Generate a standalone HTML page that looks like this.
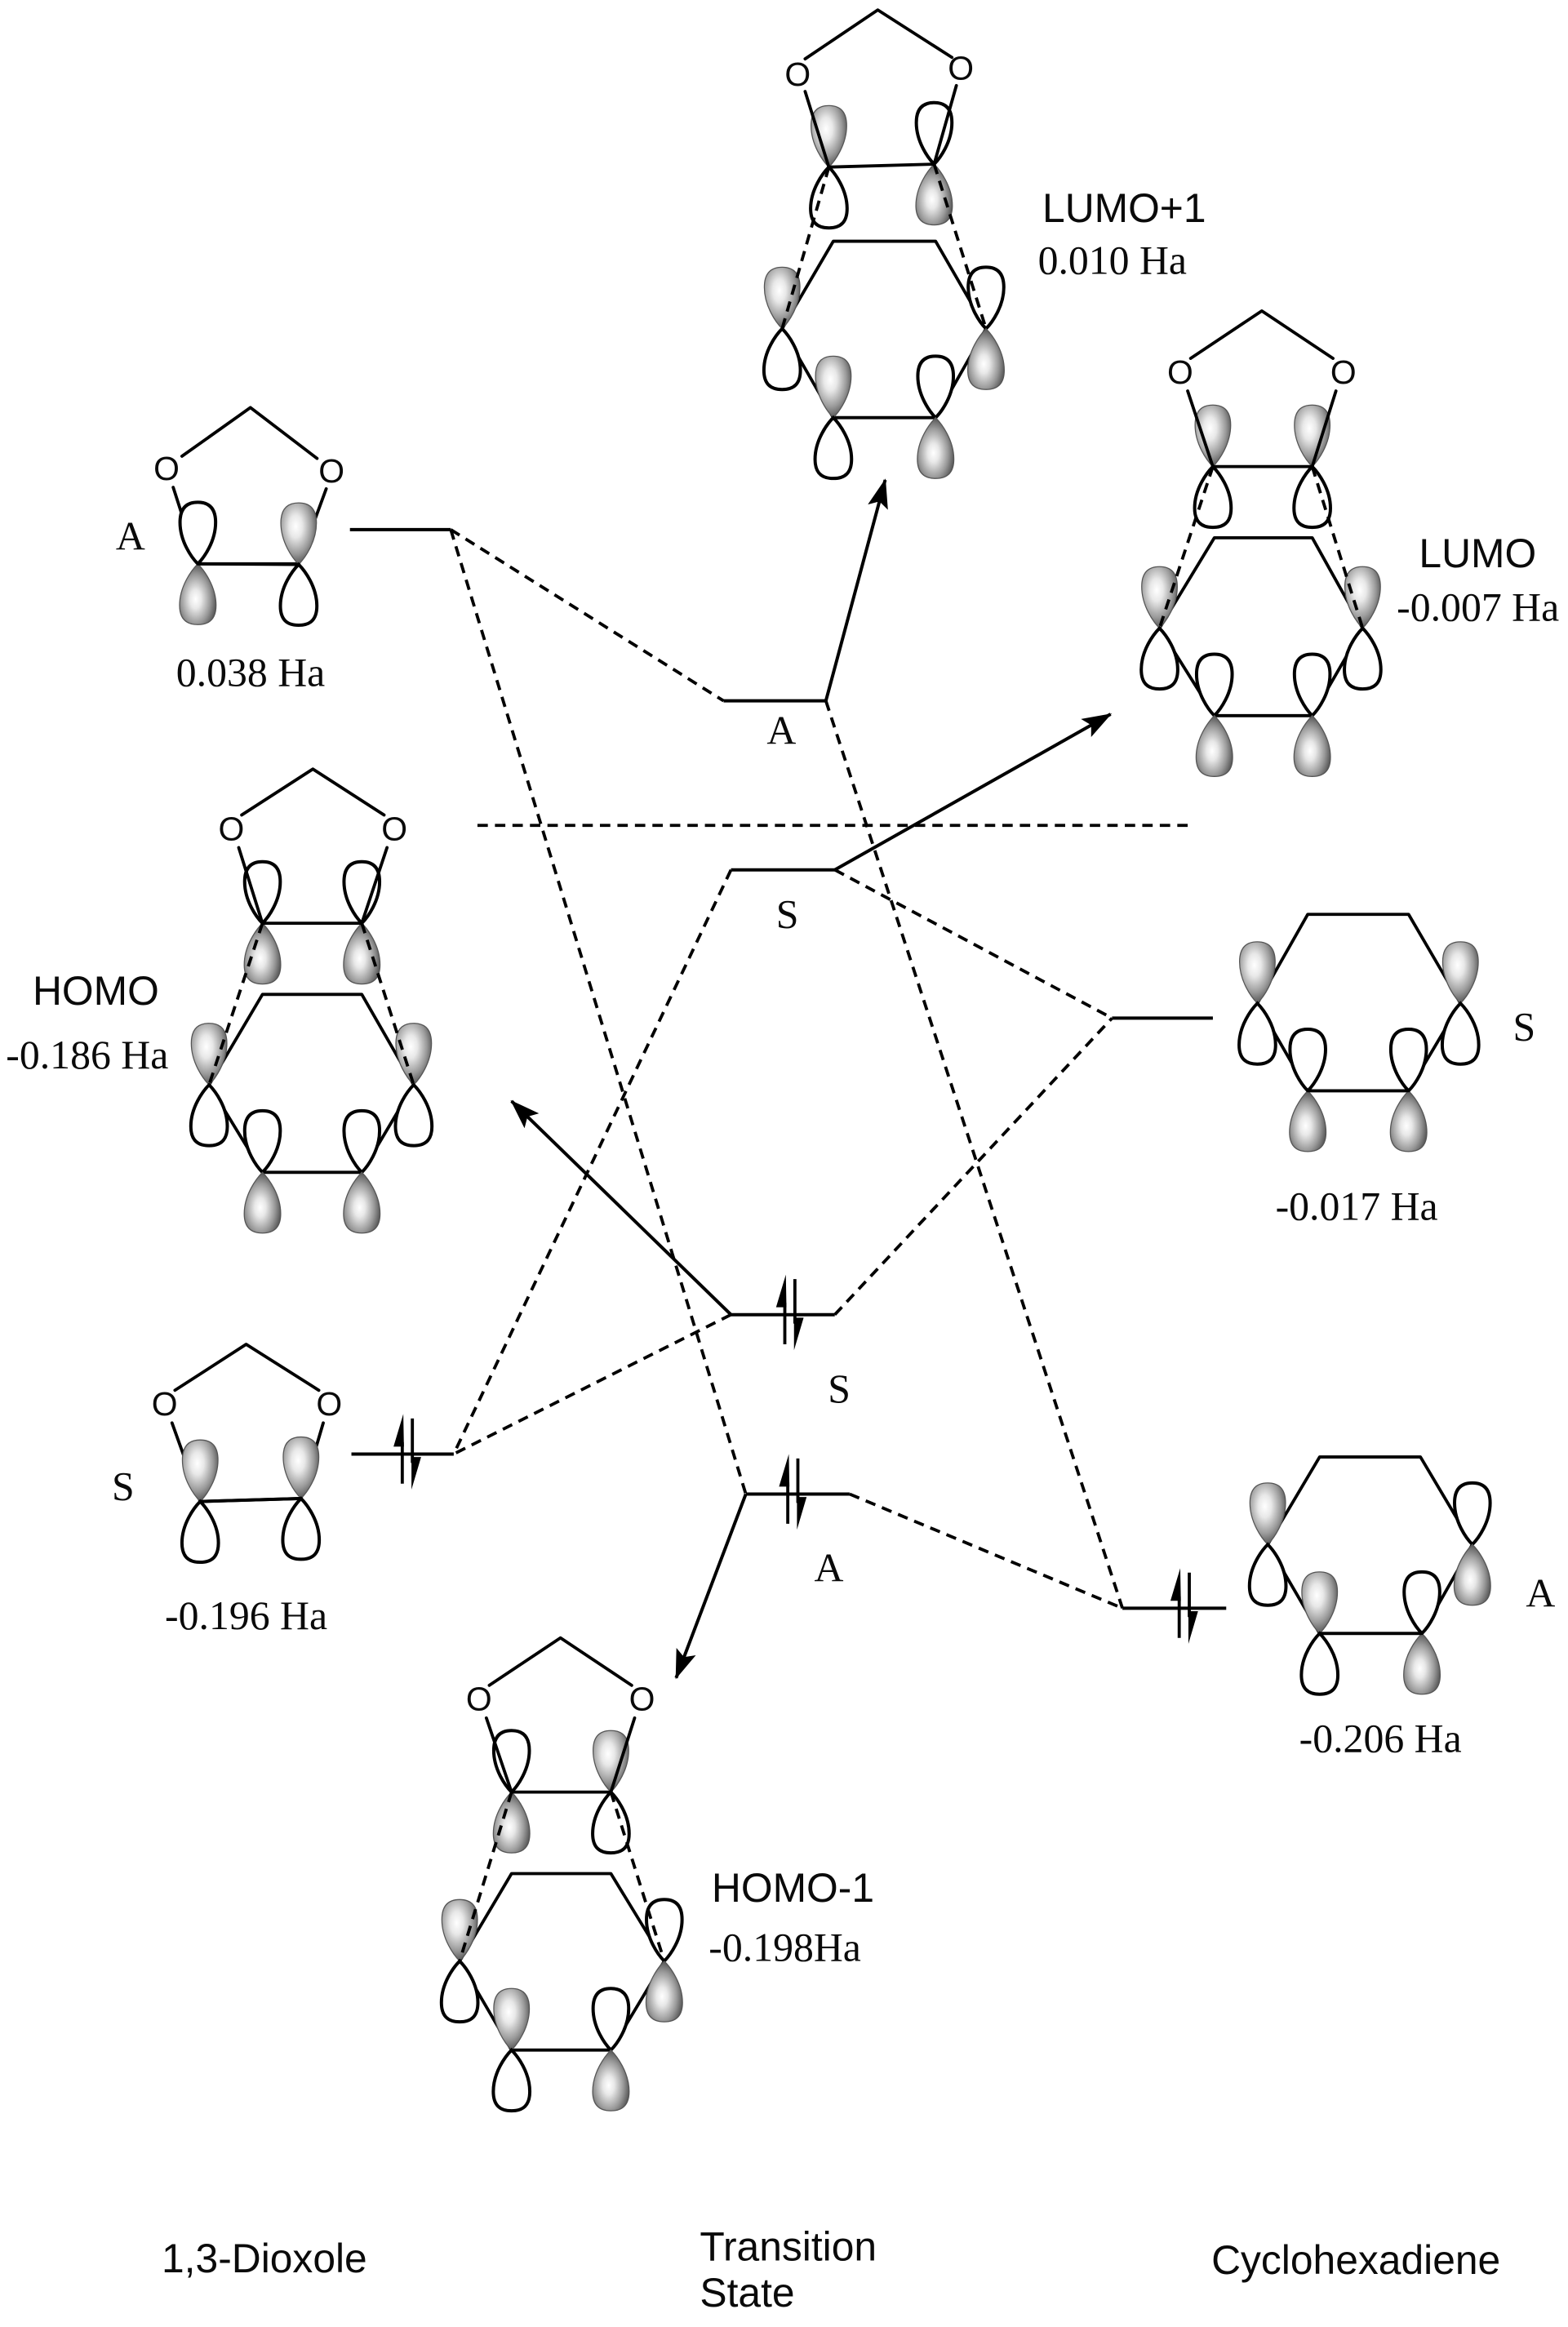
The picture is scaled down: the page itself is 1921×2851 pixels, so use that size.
<!DOCTYPE html>
<html><head><meta charset="utf-8"><style>
html,body{margin:0;padding:0;background:#fff}
svg{display:block}
.s{font-family:"Liberation Sans",sans-serif;font-size:27.4px;fill:#0a0a0a}
.t{font-family:"Liberation Serif",serif;font-size:27.4px;fill:#0a0a0a}
.o{font-family:"Liberation Sans",sans-serif;font-size:22.5px;fill:#0a0a0a;text-anchor:middle}
.m{text-anchor:middle}
.b{stroke:#000;stroke-width:2.1;fill:none;stroke-linecap:round;stroke-linejoin:round}
.d{stroke:#000;stroke-width:2.1;fill:none;stroke-dasharray:7 4.8}
.a{stroke:#000;stroke-width:2.2;fill:none}
.lv{stroke:#000;stroke-width:2.2;fill:none}
</style></head><body>
<svg xmlns="http://www.w3.org/2000/svg" width="1921" height="2851" viewBox="0 -0.7 1057.5 1569.5">
<defs>
<radialGradient id="gu" cx=".42" cy=".38" r=".66"><stop offset="0" stop-color="#fff"/><stop offset=".28" stop-color="#e8e8e8"/><stop offset=".68" stop-color="#999"/><stop offset="1" stop-color="#484848"/></radialGradient>
<radialGradient id="gd" cx=".44" cy=".58" r=".62"><stop offset="0" stop-color="#fff"/><stop offset=".25" stop-color="#e8e8e8"/><stop offset=".65" stop-color="#999"/><stop offset="1" stop-color="#454545"/></radialGradient>
<path id="up" d="M0,0C-4,-4 -12,-15 -12,-28C-12,-37 -8,-41.5 0,-41.5C8,-41.5 12,-37 12,-28C12,-15 4,-4 0,0Z"/>
<path id="dn" d="M0,0C4,4 12.3,15 12.3,28C12.3,37 8,41 0,41C-8,41 -12.3,37 -12.3,28C-12.3,15 -4,4 0,0Z"/>
<use id="uf" href="#up" fill="url(#gu)" stroke="#555" stroke-width=".7"/>
<use id="df" href="#dn" fill="url(#gd)" stroke="#555" stroke-width=".7"/>
<use id="uo" href="#up" fill="#fff" stroke="#000" stroke-width="2.2"/>
<use id="do" href="#dn" fill="#fff" stroke="#000" stroke-width="2.2"/>
<g id="spin">
<path d="M-3.7,-8V20M3.1,-24V6" stroke="#000" stroke-width="2.1" fill="none"/>
<path d="M-3,-27L-9.6,-5L-2.6,-5Z M2.5,24L9,2L2.5,2Z" fill="#000"/>
</g>
<marker id="ah" markerUnits="userSpaceOnUse" markerWidth="24" markerHeight="16" refX="19" refY="7" orient="auto"><path d="M0,0L20,7L0,14L4,7Z" fill="#000"/></marker>
</defs>

<!-- dashed correlations -->
<path class="d" d="M304,356.5L488,472"/>
<path class="d" d="M304,356.5L503,1007"/>
<path class="d" d="M557,472L757,1084"/>
<path class="d" d="M493,586L306,980"/>
<path class="d" d="M563,586L750,686"/>
<path class="d" d="M493,886L306,980"/>
<path class="d" d="M563,886L750,686"/>
<path class="d" d="M573,1007L757,1084"/>
<path class="d" d="M322,556L805,556"/>

<!-- levels -->
<path class="lv" d="M236,356.5H304M488,472H557M493,586H563M750,686H818M493,886H563M237,980H306M503,1007H573M757,1084H827"/>
<use href="#spin" x="275" y="980"/>
<use href="#spin" x="533" y="886"/>
<use href="#spin" x="535" y="1007"/>
<use href="#spin" x="799" y="1084"/>

<!-- solid arrows -->
<path class="a" marker-end="url(#ah)" d="M557,472L597,323"/>
<path class="a" marker-end="url(#ah)" d="M563,586L749,481"/>
<path class="a" marker-end="url(#ah)" d="M493,886L345,742"/>
<path class="a" marker-end="url(#ah)" d="M503,1007L456,1131"/>

<!-- LUMO+1 -->
<path class="b" d="M527.5,221L562,162H631L665,221L631,281H562Z"/>
<use href="#uf" x="559" y="112"/><use href="#do" x="559" y="112"/>
<use href="#uo" x="630" y="110"/><use href="#df" x="630" y="110"/>
<use href="#uf" x="527.5" y="221"/><use href="#do" x="527.5" y="221"/>
<use href="#uo" x="665" y="221"/><use href="#df" x="665" y="221"/>
<use href="#uf" x="562" y="281"/><use href="#do" x="562" y="281"/>
<use href="#uo" x="631" y="281"/><use href="#df" x="631" y="281"/>
<path class="b" d="M543,39L592,6L642,38M543,61L559,112L630,110L645,57"/>
<path class="d" d="M559,112L527.5,221M630,110L665,221"/>
<text class="o" x="538" y="57">O</text><text class="o" x="648" y="53">O</text>

<!-- LUMO -->
<path class="b" d="M782,423L819,362H885L919,423L885,482H819Z"/>
<use href="#uf" x="818" y="314"/><use href="#do" x="818" y="314"/>
<use href="#uf" x="885" y="314"/><use href="#do" x="885" y="314"/>
<use href="#uf" x="782" y="423"/><use href="#do" x="782" y="423"/>
<use href="#uf" x="919" y="423"/><use href="#do" x="919" y="423"/>
<use href="#uo" x="819" y="482"/><use href="#df" x="819" y="482"/>
<use href="#uo" x="885" y="482"/><use href="#df" x="885" y="482"/>
<path class="b" d="M803,241L851,209L899,241M801,263L818,314H885L901,263"/>
<path class="d" d="M818,314L782,423M885,314L919,423"/>
<text class="o" x="796" y="258">O</text><text class="o" x="906" y="258">O</text>

<!-- HOMO -->
<path class="b" d="M141,731L177,670H244L279,731L244,790H177Z"/>
<use href="#uo" x="177" y="622"/><use href="#df" x="177" y="622"/>
<use href="#uo" x="244" y="622"/><use href="#df" x="244" y="622"/>
<use href="#uf" x="141" y="731"/><use href="#do" x="141" y="731"/>
<use href="#uf" x="279" y="731"/><use href="#do" x="279" y="731"/>
<use href="#uo" x="177" y="790"/><use href="#df" x="177" y="790"/>
<use href="#uo" x="244" y="790"/><use href="#df" x="244" y="790"/>
<path class="b" d="M163,549L211,518L259,549M161,571L177,622H244L261,571"/>
<path class="d" d="M177,622L141,731M244,622L279,731"/>
<text class="o" x="156" y="566">O</text><text class="o" x="266" y="566">O</text>

<!-- HOMO-1 -->
<path class="b" d="M310,1322L345,1263H412L448,1322L412,1382H345Z"/>
<use href="#uo" x="345" y="1208"/><use href="#df" x="345" y="1208"/>
<use href="#uf" x="412" y="1208"/><use href="#do" x="412" y="1208"/>
<use href="#uf" x="310" y="1322"/><use href="#do" x="310" y="1322"/>
<use href="#uo" x="448" y="1322"/><use href="#df" x="448" y="1322"/>
<use href="#uf" x="345" y="1382"/><use href="#do" x="345" y="1382"/>
<use href="#uo" x="412" y="1382"/><use href="#df" x="412" y="1382"/>
<path class="b" d="M330,1136L378,1104L426,1136M328,1158L345,1208H412L428,1158"/>
<path class="d" d="M345,1208L310,1322M412,1208L448,1322"/>
<text class="o" x="323" y="1153">O</text><text class="o" x="433" y="1153">O</text>

<!-- Dioxole A -->
<path class="b" d="M122.7,307L168.9,274.2L213.8,308.5M116.8,328L133.4,379.6H201.4L220,329"/>
<use href="#uo" x="133.4" y="379.6"/><use href="#df" x="133.4" y="379.6"/>
<use href="#uf" x="201.4" y="380"/><use href="#do" x="201.4" y="380"/>
<path class="b" d="M133.4,379.6L201.4,380"/>
<text class="o" x="112.3" y="323">O</text><text class="o" x="223.6" y="324.6">O</text>

<!-- Dioxole S -->
<path class="b" d="M118,937L166,906L215,937M116,959L135,1012L203,1010L218,959"/>
<use href="#uf" x="135" y="1012"/><use href="#do" x="135" y="1012"/>
<use href="#uf" x="203" y="1010"/><use href="#do" x="203" y="1010"/>
<path class="b" d="M135,1012L203,1010"/>
<text class="o" x="111" y="954">O</text><text class="o" x="222" y="954">O</text>

<!-- Cyclohexadiene S -->
<path class="b" d="M848,676L882,616H950L985,676L950,735H882Z"/>
<use href="#uf" x="848" y="676"/><use href="#do" x="848" y="676"/>
<use href="#uf" x="985" y="676"/><use href="#do" x="985" y="676"/>
<use href="#uo" x="882" y="735"/><use href="#df" x="882" y="735"/>
<use href="#uo" x="950" y="735"/><use href="#df" x="950" y="735"/>
<path class="b" d="M882,735H950"/>

<!-- Cyclohexadiene A -->
<path class="b" d="M855,1041L890,982H958L993,1041L959,1101H890Z"/>
<use href="#uf" x="855" y="1041"/><use href="#do" x="855" y="1041"/>
<use href="#uo" x="993" y="1041"/><use href="#df" x="993" y="1041"/>
<use href="#uf" x="890" y="1101"/><use href="#do" x="890" y="1101"/>
<use href="#uo" x="959" y="1101"/><use href="#df" x="959" y="1101"/>
<path class="b" d="M890,1101H959"/>

<!-- labels -->
<text class="s" x="703" y="149">LUMO+1</text>
<text class="t" x="700" y="184">0.010 Ha</text>
<text class="s" x="957" y="382">LUMO</text>
<text class="t" x="942" y="418">-0.007 Ha</text>
<text class="s" x="22" y="677">HOMO</text>
<text class="t" x="4" y="720">-0.186 Ha</text>
<text class="s" x="480" y="1282">HOMO-1</text>
<text class="t" x="478" y="1322">-0.198Ha</text>
<text class="t m" x="169" y="462">0.038 Ha</text>
<text class="t m" x="166" y="1098">-0.196 Ha</text>
<text class="t m" x="915" y="822">-0.017 Ha</text>
<text class="t m" x="931" y="1181">-0.206 Ha</text>
<text class="t m" x="88" y="370">A</text>
<text class="t m" x="83" y="1011">S</text>
<text class="t m" x="527" y="501">A</text>
<text class="t m" x="531" y="625">S</text>
<text class="t m" x="566" y="945">S</text>
<text class="t m" x="559" y="1066">A</text>
<text class="t m" x="1028" y="701">S</text>
<text class="t m" x="1039" y="1083">A</text>
<text class="s" x="109" y="1532">1,3-Dioxole</text>
<text class="s" x="472" y="1524">Transition</text>
<text class="s" x="472" y="1555">State</text>
<text class="s" x="817" y="1533">Cyclohexadiene</text>
</svg>
</body></html>
